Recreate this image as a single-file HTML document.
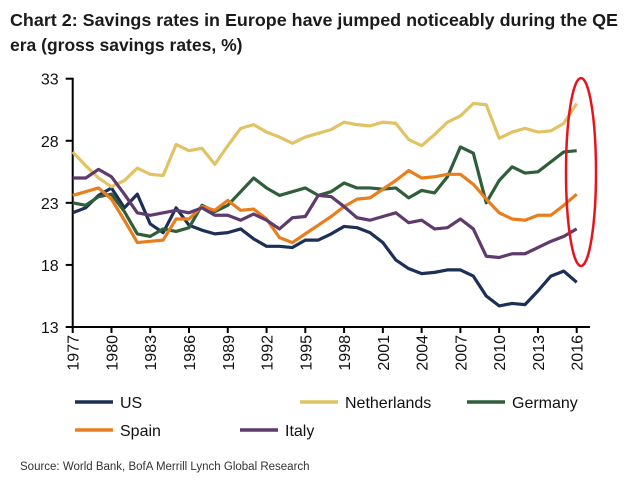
<!DOCTYPE html>
<html><head><meta charset="utf-8"><style>
body{margin:0;background:#fff;width:635px;height:493px;overflow:hidden;font-family:"Liberation Sans",sans-serif}
</style></head><body>
<svg width="635" height="493">
<text x="10" y="26" font-size="17.5" font-weight="bold" fill="#1b1b1b" textLength="608" lengthAdjust="spacingAndGlyphs">Chart 2: Savings rates in Europe have jumped noticeably during the QE</text>
<text x="10" y="51" font-size="17.5" font-weight="bold" fill="#1b1b1b">era (gross savings rates, %)</text>
<g id="axes"></g>
<g id="lines"></g>
<ellipse cx="581" cy="172" rx="15" ry="94" fill="none" stroke="#e8141c" stroke-width="2.5"/>
<g id="legend"></g>
<text x="20" y="470" font-size="11.5" fill="#333">Source: World Bank, BofA Merrill Lynch Global Research</text>
</svg>
<script>
const years=[];for(let y=1977;y<=2016;y++)years.push(y);
const yTicks=[13,18,23,28,33];
const xTickYears=[1977,1980,1983,1986,1989,1992,1995,1998,2001,2004,2007,2010,2013,2016];
const seriesNames=["US","Netherlands","Germany","Spain","Italy"];
const seriesColors=["#1b2f57","#e2c364","#2f5e3a","#e97e1f","#5f3a6c"];
const us=[22.2,22.6,23.6,24.2,22.6,23.7,21.3,20.6,22.6,21.2,20.8,20.5,20.6,20.9,20.1,19.5,19.5,19.4,20.0,20.0,20.5,21.1,21.0,20.6,19.8,18.4,17.7,17.3,17.4,17.6,17.6,17.1,15.5,14.7,14.9,14.8,15.9,17.1,17.5,16.6];
const netherlands=[27.1,26.0,25.0,24.3,24.8,25.8,25.3,25.2,27.7,27.2,27.4,26.1,27.6,29.0,29.3,28.7,28.3,27.8,28.3,28.6,28.9,29.5,29.3,29.2,29.5,29.4,28.1,27.6,28.5,29.5,30.0,31.0,30.9,28.2,28.7,29.0,28.7,28.8,29.4,31.0];
const germany=[23.0,22.8,23.5,23.7,22.3,20.5,20.3,20.9,20.7,21.0,22.8,22.3,22.8,23.9,25.0,24.2,23.6,23.9,24.2,23.6,23.9,24.6,24.2,24.2,24.1,24.2,23.4,24.0,23.8,25.1,27.5,27.0,23.0,24.8,25.9,25.4,25.5,26.3,27.1,27.2];
const spain=[23.6,23.9,24.2,23.3,21.6,19.8,19.9,20.0,21.7,21.7,22.7,22.4,23.2,22.4,22.5,21.7,20.2,19.8,20.5,21.2,21.9,22.7,23.3,23.4,24.1,24.8,25.6,25.0,25.1,25.3,25.3,24.5,23.3,22.2,21.7,21.6,22.0,22.0,22.8,23.7];
const italy=[25.0,25.0,25.7,25.1,23.7,22.2,22.0,22.2,22.4,22.2,22.6,22.0,22.0,21.6,22.1,21.6,20.9,21.8,21.9,23.6,23.5,22.7,21.8,21.6,21.9,22.2,21.4,21.6,20.9,21.0,21.7,20.9,18.7,18.6,18.9,18.9,19.4,19.9,20.3,20.9];
const seriesData=[us,netherlands,germany,spain,italy];
const NS="http://www.w3.org/2000/svg";
const X0=72.7,X1=576.7,Y33=78.7,Y13=327;
const xS=y=>X0+(y-1977)*(X1-X0)/(2016-1977);
const yS=v=>Y13-(v-13)*(Y13-Y33)/20;
function mk(t,a,p){const e=document.createElementNS(NS,t);for(const k in a)e.setAttribute(k,a[k]);p.appendChild(e);return e;}
const ax=document.getElementById('axes');
let e=mk('line',{x1:X0,y1:Y33-1,x2:X0,y2:Y13+1,stroke:'#000','stroke-width':2},ax);


e=mk('line',{x1:X0-1,y1:Y13,x2:590,y2:Y13,stroke:'#000','stroke-width':2},ax);


yTicks.forEach(v=>{
 mk('line',{x1:X0-7,y1:yS(v),x2:X0,y2:yS(v),stroke:'#000','stroke-width':2},ax);
 const t=mk('text',{x:X0-14,y:yS(v)+6,'font-size':16,'text-anchor':'end',fill:'#111'},ax);t.textContent=v;
 
 
});
xTickYears.forEach(y=>{
 mk('line',{x1:xS(y),y1:Y13,x2:xS(y),y2:Y13+6,stroke:'#000','stroke-width':2},ax);
 const t=mk('text',{x:0,y:0,'font-size':16,'text-anchor':'end',fill:'#111',transform:`translate(${xS(y)+6},${Y13+8}) rotate(-90)`},ax);t.textContent=y;
 
 
});
const lg=document.getElementById('lines');
seriesData.forEach((d,i)=>{
 const p=mk('polyline',{points:d.map((v,j)=>xS(years[j])+','+yS(v)).join(' '),fill:'none',stroke:seriesColors[i],'stroke-width':3.2,'stroke-linejoin':'round'},lg);
 
 
});
const leg=document.getElementById('legend');
const pos=[[75,402],[300,402],[467,402],[75,430],[240,430]];
seriesNames.forEach((n,i)=>{
 const [x,y]=pos[i];
 const g=mk('g',{},leg);
 
 
 mk('line',{x1:x,y1:y,x2:x+38,y2:y,stroke:seriesColors[i],'stroke-width':3.5},g);
 const t=mk('text',{x:x+45,y:y+6,'font-size':16,fill:'#111'},g);t.textContent=n;
});
</script>
</body></html>
